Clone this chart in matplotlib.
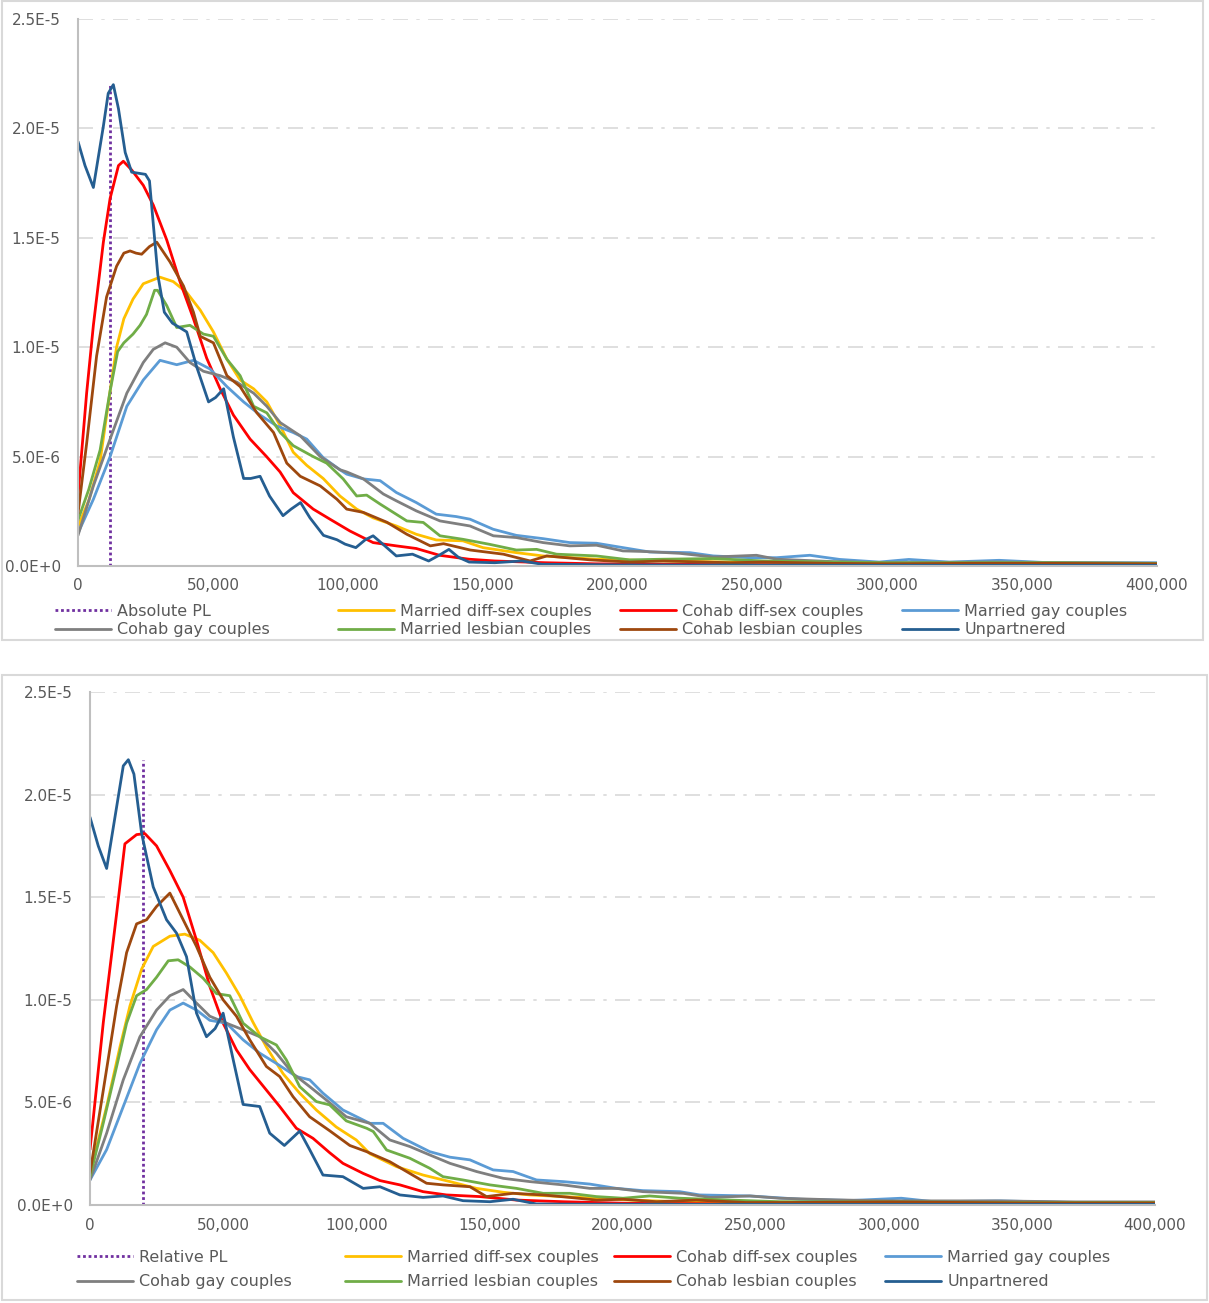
import numpy as np
import matplotlib
matplotlib.use("Agg")
import matplotlib.pyplot as plt
from matplotlib.ticker import FuncFormatter, FixedLocator
from matplotlib.patches import Rectangle

W, H = 1209, 1303

series_names = ["Married diff-sex couples", "Cohab diff-sex couples", "Married gay couples",
                "Cohab gay couples", "Married lesbian couples", "Cohab lesbian couples", "Unpartnered"]
series_colors = ["#FFC000", "#FF0000", "#5B9BD5", "#7F7F7F", "#70AD47", "#9E480E", "#255E91"]

# ---------------- Top chart (income in thousands, density in 1e-6) ----------------
abs_pl_x = [12, 12]
abs_pl_y = [0, 22.0]

top_married_diff_x = [0, 4, 8.2, 11.9, 14.3, 17, 20.4, 24.2, 30.4, 35.3, 40.3, 45.3, 50.2, 55.2, 60.1, 65.1, 70, 75, 79.8, 84.8, 90.9, 97.1, 103.3, 109.4, 118, 125.4, 132.8, 142.7, 150.1, 162.5, 172.4, 192.2, 216.9, 241.6, 270, 300, 350, 400]
top_married_diff_y = [1.8, 3.0, 4.8, 8.0, 10.0, 11.3, 12.2, 12.9, 13.2, 13.0, 12.5, 11.7, 10.7, 9.45, 8.5, 8.1, 7.5, 6.4, 5.2, 4.6, 4.0, 3.2, 2.6, 2.2, 1.83, 1.45, 1.19, 1.15, 0.84, 0.61, 0.46, 0.31, 0.23, 0.18, 0.15, 0.12, 0.1, 0.1]

top_cohab_diff_x = [0, 3.2, 5.7, 9.4, 11.9, 15, 16.8, 19.9, 24.2, 27.9, 32.9, 37.8, 42.8, 47.7, 52.7, 57.6, 63.8, 69.9, 74.9, 79.8, 87.2, 93.4, 100.8, 109.4, 118, 125.4, 134, 145, 154.5, 173, 191.7, 216, 250, 300, 350, 400]
top_cohab_diff_y = [3.2, 7.9, 11.0, 14.8, 16.8, 18.3, 18.5, 18.1, 17.4, 16.5, 14.9, 13.0, 11.3, 9.5, 8.1, 6.9, 5.8, 5.0, 4.3, 3.35, 2.6, 2.14, 1.6, 1.07, 0.92, 0.8, 0.49, 0.31, 0.23, 0.15, 0.1, 0.08, 0.06, 0.05, 0.05, 0.05]

top_married_gay_x = [0, 5.7, 11.9, 18.1, 24.2, 30.4, 36.6, 42.8, 49, 55.2, 61.4, 67.5, 73.7, 79.8, 84.8, 90.9, 97.1, 99.6, 105.8, 112, 118, 125.4, 132.8, 140.2, 145.3, 153.9, 162.5, 172.4, 182.3, 192.2, 202, 211.9, 226.8, 235.5, 249, 259, 271.3, 282.4, 297, 308, 323, 341.5, 360, 391, 400]
top_married_gay_y = [1.5, 3.05, 5.0, 7.3, 8.5, 9.4, 9.2, 9.4, 9.0, 8.2, 7.5, 6.9, 6.4, 6.1, 5.8, 4.95, 4.4, 4.2, 3.98, 3.9, 3.36, 2.9, 2.37, 2.26, 2.14, 1.68, 1.4, 1.25, 1.07, 1.04, 0.84, 0.64, 0.61, 0.46, 0.38, 0.38, 0.49, 0.3, 0.18, 0.3, 0.18, 0.26, 0.15, 0.15, 0.15]

top_cohab_gay_x = [0, 5.7, 11.9, 18.1, 24.2, 27.9, 32.3, 36.6, 41.5, 46.5, 52.7, 58.9, 65.1, 70, 75, 82.4, 89.8, 97.1, 99.6, 105.8, 113.2, 118, 125.4, 134.2, 145.3, 154, 162.5, 172.4, 182.3, 192.2, 202, 210.7, 223, 235.5, 251.5, 259, 280, 300, 340, 370, 400]
top_cohab_gay_y = [1.4, 3.66, 5.8, 7.9, 9.3, 9.9, 10.2, 10.0, 9.3, 8.9, 8.7, 8.4, 7.9, 7.3, 6.55, 5.95, 5.0, 4.4, 4.3, 3.98, 3.29, 2.98, 2.52, 2.06, 1.83, 1.38, 1.3, 1.07, 0.92, 0.95, 0.69, 0.66, 0.58, 0.41, 0.49, 0.31, 0.2, 0.15, 0.18, 0.15, 0.12]

top_married_les_x = [0, 4, 8.2, 11.9, 14.7, 17, 20.4, 23, 25.4, 28.4, 29.5, 32.9, 36.6, 41.5, 46.5, 50.2, 55.2, 60.1, 65.1, 70, 75, 79.8, 87.2, 92.2, 98.3, 103.3, 107, 112, 121.9, 128, 134.2, 142.7, 152.6, 162.5, 170, 177.4, 192.2, 204.5, 217, 235.5, 254, 280, 300, 330, 360, 400]
top_married_les_y = [2.1, 3.5, 5.3, 8.0, 9.8, 10.2, 10.6, 11.0, 11.5, 12.6, 12.6, 11.9, 10.9, 11.0, 10.6, 10.5, 9.45, 8.7, 7.3, 7.0, 6.1, 5.5, 5.0, 4.7, 3.98, 3.2, 3.24, 2.83, 2.06, 1.99, 1.38, 1.22, 0.99, 0.73, 0.76, 0.54, 0.46, 0.28, 0.31, 0.34, 0.23, 0.18, 0.15, 0.15, 0.15, 0.12]

top_cohab_les_x = [0, 3.2, 6.9, 10.6, 14.3, 17, 19.3, 21.5, 23.6, 26.5, 29.2, 34.1, 39.1, 42.8, 45.3, 50.2, 55.2, 60.1, 66.3, 72.5, 77.4, 82.4, 89.8, 96, 99.6, 105.8, 114.5, 121.9, 130.6, 135.5, 145.4, 157.7, 167.6, 173.8, 189.9, 204.7, 217, 241.8, 254, 280, 300, 330, 360, 400]
top_cohab_les_y = [2.4, 5.6, 9.6, 12.3, 13.7, 14.3, 14.4, 14.3, 14.25, 14.6, 14.8, 13.9, 12.8, 11.6, 10.5, 10.2, 8.7, 8.2, 7.0, 6.1, 4.7, 4.1, 3.66, 3.05, 2.6, 2.45, 2.0, 1.45, 0.92, 1.02, 0.73, 0.54, 0.23, 0.46, 0.28, 0.18, 0.23, 0.15, 0.18, 0.12, 0.1, 0.12, 0.12, 0.1]

top_unpart_x = [0, 2.6, 5.7, 9.4, 11.2, 13.1, 15, 17.5, 19.9, 25, 26.5, 27.5, 29.6, 32, 35, 40.3, 44, 48.4, 51, 54, 57.6, 61.4, 64, 67.5, 71, 76, 79, 82.5, 86, 91, 96, 99, 103, 106.5, 109.4, 113, 118, 121, 124, 130, 134, 137.5, 141, 145, 154.5, 164.5, 172, 200, 250, 300, 350, 400]
top_unpart_y = [19.4, 18.3, 17.3, 20.1, 21.6, 22.0, 20.9, 18.9, 18.0, 17.9, 17.6, 16.2, 13.3, 11.6, 11.1, 10.7, 9.1, 7.5, 7.7, 8.1, 5.9, 4.0, 4.0, 4.1, 3.2, 2.3, 2.6, 2.9, 2.2, 1.4, 1.2, 1.0, 0.84, 1.2, 1.38, 1.0, 0.46, 0.5, 0.54, 0.23, 0.5, 0.76, 0.4, 0.18, 0.15, 0.23, 0.08, 0.05, 0.04, 0.03, 0.03, 0.03]

# ---------------- Bottom chart ----------------
rel_pl_x = [20, 20]
rel_pl_y = [0, 21.7]

bot_married_diff_x = [0, 6.25, 11.25, 15, 19.4, 23.75, 30, 35.6, 41.25, 46.25, 51.25, 56.25, 61.25, 66.25, 72.5, 78.75, 85, 92.5, 100, 105.1, 115.1, 125.1, 135.2, 145.2, 155.2, 165.2, 177.7, 190.2, 202.7, 221.5, 240.3, 280, 320, 360, 400]
bot_married_diff_y = [1.55, 4.8, 7.7, 9.7, 11.5, 12.6, 13.1, 13.2, 12.9, 12.3, 11.3, 10.2, 8.9, 7.7, 6.4, 5.45, 4.63, 3.8, 3.17, 2.5, 1.87, 1.46, 1.14, 0.81, 0.62, 0.49, 0.41, 0.33, 0.24, 0.16, 0.15, 0.12, 0.1, 0.1, 0.1]

bot_cohab_diff_x = [0, 5, 10, 13.1, 17.5, 20.6, 25, 30, 35, 40, 45, 50, 55, 60, 65, 71.25, 77.5, 83.75, 90, 95, 102.6, 108.9, 116.4, 125.1, 133.9, 146.4, 160.2, 177.7, 202.7, 250, 300, 400]
bot_cohab_diff_y = [2.7, 8.9, 14.2, 17.6, 18.05, 18.1, 17.5, 16.3, 15.0, 12.9, 10.65, 8.86, 7.56, 6.6, 5.8, 4.8, 3.74, 3.25, 2.55, 2.03, 1.54, 1.19, 0.98, 0.65, 0.49, 0.41, 0.24, 0.16, 0.08, 0.05, 0.05, 0.05]

bot_married_gay_x = [0, 6.25, 12.5, 18.75, 25, 30, 35, 40, 45, 51.25, 57.5, 63.75, 70, 77.5, 82.5, 87.5, 95, 102.5, 105.1, 110.1, 117.6, 127.6, 135.2, 142.7, 151.4, 158.9, 167.7, 177.7, 187.7, 197.7, 207.7, 221.5, 229, 248, 267, 286, 304.7, 317, 342, 367, 400]
bot_married_gay_y = [1.22, 2.7, 4.8, 6.9, 8.54, 9.5, 9.84, 9.5, 9.0, 8.86, 8.05, 7.4, 6.9, 6.26, 6.1, 5.45, 4.63, 4.15, 3.98, 3.98, 3.25, 2.6, 2.33, 2.2, 1.71, 1.63, 1.22, 1.14, 1.02, 0.81, 0.7, 0.65, 0.49, 0.44, 0.28, 0.22, 0.33, 0.16, 0.2, 0.13, 0.13]

bot_cohab_gay_x = [0, 6.25, 12.5, 18.75, 25, 30, 35, 40, 45, 51.25, 57.5, 63.75, 70, 76.25, 82.5, 88.75, 96.25, 105.1, 112.6, 120.1, 127.6, 135.2, 145.2, 155.2, 165.2, 177.7, 187.7, 197.7, 207.7, 222.8, 232.8, 247.8, 259, 280, 300, 340, 370, 400]
bot_cohab_gay_y = [1.22, 3.5, 6.1, 8.2, 9.5, 10.2, 10.5, 9.84, 9.2, 8.86, 8.54, 8.2, 7.4, 6.4, 5.77, 5.12, 4.3, 3.98, 3.17, 2.85, 2.44, 2.03, 1.63, 1.3, 1.14, 0.98, 0.81, 0.81, 0.65, 0.57, 0.37, 0.44, 0.33, 0.25, 0.2, 0.2, 0.15, 0.15]

bot_married_les_x = [0, 5, 10, 13.75, 17.5, 21.25, 25, 29.4, 33.1, 37.5, 42.5, 47.5, 52.5, 57.5, 63.75, 70, 73.75, 78.75, 85, 90, 96.25, 103.9, 106.4, 111.4, 120.1, 127.6, 132.6, 140.1, 150.2, 160.2, 170.2, 180.2, 190.2, 200.2, 210.2, 221.5, 240.3, 259, 300, 350, 400]
bot_married_les_y = [1.38, 4.0, 6.75, 8.86, 10.2, 10.5, 11.1, 11.9, 11.95, 11.6, 11.05, 10.3, 10.2, 8.86, 8.2, 7.8, 7.07, 5.77, 5.04, 4.88, 4.1, 3.74, 3.58, 2.68, 2.28, 1.79, 1.38, 1.22, 0.98, 0.81, 0.57, 0.57, 0.41, 0.33, 0.44, 0.33, 0.24, 0.16, 0.15, 0.12, 0.12]

bot_cohab_les_x = [0, 5, 10, 13.75, 17.5, 21.25, 25, 30, 35, 40, 45, 50, 55, 60, 66.25, 71.25, 76.25, 82.5, 90, 97.6, 103.9, 112.6, 120.1, 126.4, 132.6, 142.7, 148.9, 158.9, 170.2, 180.2, 190.2, 200.2, 212.8, 227.8, 246.5, 259, 300, 350, 400]
bot_cohab_les_y = [1.55, 5.6, 9.7, 12.3, 13.7, 13.9, 14.55, 15.2, 13.9, 12.6, 11.1, 10.0, 9.2, 8.05, 6.75, 6.26, 5.28, 4.3, 3.62, 2.9, 2.6, 2.11, 1.54, 1.06, 0.98, 0.89, 0.41, 0.57, 0.49, 0.37, 0.24, 0.28, 0.16, 0.24, 0.12, 0.12, 0.15, 0.1, 0.1]

bot_unpart_x = [0, 3.1, 6.25, 10, 12.5, 14.4, 16.5, 19.4, 23.75, 28.75, 32.5, 36.25, 40, 43.75, 47, 50, 53.75, 57.5, 63.75, 67.5, 73, 78.75, 82.5, 87.5, 95, 102.6, 108.9, 116.4, 125.1, 132.6, 140.1, 150.2, 158.9, 167.7, 185, 250, 300, 400]
bot_unpart_y = [18.9, 17.5, 16.4, 19.4, 21.4, 21.7, 21.0, 18.1, 15.5, 13.9, 13.25, 12.1, 9.35, 8.2, 8.6, 9.35, 7.1, 4.9, 4.8, 3.5, 2.9, 3.6, 2.7, 1.46, 1.38, 0.81, 0.89, 0.49, 0.37, 0.44, 0.21, 0.16, 0.28, 0.05, 0.04, 0.03, 0.03, 0.03]

x_ticks = [0, 50000, 100000, 150000, 200000, 250000, 300000, 350000, 400000]
y_ticks = [0, 5e-6, 1e-5, 1.5e-5, 2e-5, 2.5e-5]

top_series = [(top_married_diff_x, top_married_diff_y), (top_cohab_diff_x, top_cohab_diff_y),
              (top_married_gay_x, top_married_gay_y), (top_cohab_gay_x, top_cohab_gay_y),
              (top_married_les_x, top_married_les_y), (top_cohab_les_x, top_cohab_les_y),
              (top_unpart_x, top_unpart_y)]
bot_series = [(bot_married_diff_x, bot_married_diff_y), (bot_cohab_diff_x, bot_cohab_diff_y),
              (bot_married_gay_x, bot_married_gay_y), (bot_cohab_gay_x, bot_cohab_gay_y),
              (bot_married_les_x, bot_married_les_y), (bot_cohab_les_x, bot_cohab_les_y),
              (bot_unpart_x, bot_unpart_y)]

TXT = "#595959"
plt.rcParams['font.family'] = ['DejaVu Sans']


def sci_fmt(v, pos):
    if abs(v) < 1e-15:
        return "0.0E+0"
    e = int(np.floor(np.log10(abs(v)) + 1e-9))
    m = v / 10 ** e
    return f"{m:.1f}E{e:+d}"


def comma_fmt(v, pos):
    return f"{int(round(v)):,}"


def draw_panel(fig, rect, pl_x, pl_y, pl_label, series, legend_xs, legend_ymid, spacing):
    ax = fig.add_axes(rect)
    handles = []
    h, = ax.plot(np.array(pl_x) * 1000, np.array(pl_y) * 1e-6, color="#7030A0",
                 lw=2.0, linestyle=(0, (1, 1)), label=pl_label)
    handles.append(h)
    for (sx, sy), name, col in zip(series, series_names, series_colors):
        h, = ax.plot(np.array(sx) * 1000, np.array(sy) * 1e-6, color=col, lw=2.0,
                     label=name, solid_joinstyle='round', solid_capstyle='round')
        handles.append(h)
    ax.set_xlim(0, 400000)
    ax.set_ylim(0, 2.5e-5)
    ax.xaxis.set_major_locator(FixedLocator(x_ticks))
    ax.yaxis.set_major_locator(FixedLocator(y_ticks))
    ax.xaxis.set_major_formatter(FuncFormatter(comma_fmt))
    ax.yaxis.set_major_formatter(FuncFormatter(sci_fmt))
    ax.tick_params(axis='both', length=0, labelsize=11, labelcolor=TXT)
    ax.tick_params(axis='y', pad=12.5)
    ax.tick_params(axis='x', pad=9)
    for s in ['top', 'right']:
        ax.spines[s].set_visible(False)
    for s in ['left', 'bottom']:
        ax.spines[s].set_color("#BFBFBF")
        ax.spines[s].set_linewidth(1.5)
    ax.grid(axis='y', color="#D9D9D9", lw=1.2, linestyle=(0, (9, 5, 2, 5)))
    ax.set_axisbelow(True)
    labels = [pl_label] + series_names
    for c in range(4):
        idx = [c, c + 4]
        fig.legend([handles[i] for i in idx], [labels[i] for i in idx],
                   loc='center left', bbox_to_anchor=(legend_xs[c] / W, 1 - legend_ymid / H),
                   frameon=False, borderpad=0, borderaxespad=0, handlelength=3.5,
                   handletextpad=0.4, labelspacing=spacing, fontsize=11.5, labelcolor=TXT)
    return ax


fig = plt.figure(figsize=(W / 100, H / 100), dpi=100)
fig.patch.set_facecolor("white")

# panel borders
fig.patches.append(Rectangle((2 / W, 1 - 640 / H), 1201 / W, 639 / H, transform=fig.transFigure,
                             fill=False, edgecolor="#D9D9D9", lw=1.5))
fig.patches.append(Rectangle((2 / W, 1 - 1300 / H), 1205 / W, 625 / H, transform=fig.transFigure,
                             fill=False, edgecolor="#D9D9D9", lw=1.5))

draw_panel(fig, [78 / W, 1 - 566 / H, 1079 / W, 547 / H], abs_pl_x, abs_pl_y, "Absolute PL",
           top_series, [55, 338, 620, 902], 620.5, 0.25)
draw_panel(fig, [90 / W, 1 - 1205 / H, 1065 / W, 513 / H], rel_pl_x, rel_pl_y, "Relative PL",
           bot_series, [77, 345, 614, 885], 1269.5, 0.62)

fig.savefig("out.png", dpi=100)
